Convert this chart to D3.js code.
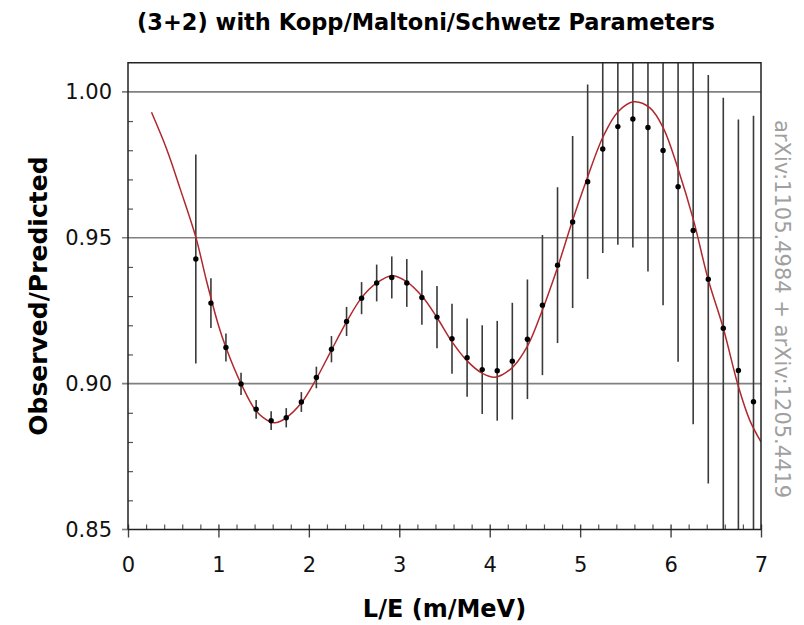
<!DOCTYPE html>
<html>
<head>
<meta charset="utf-8">
<script src="https://cdn.jsdelivr.net/npm/d3@7/dist/d3.min.js"></script>
<style>
  html, body { margin: 0; padding: 0; background: #fff; }
  svg { display: block; }
  text { font-family: "DejaVu Sans", Verdana, sans-serif; }
</style>
</head>
<body>
<svg id="chart" width="804" height="625"></svg>
<script>
// Binned L/E centres (m/MeV)
const binLE = [0.75, 0.917, 1.083, 1.25, 1.417, 1.583, 1.75, 1.917, 2.083, 2.25,
  2.417, 2.583, 2.75, 2.917, 3.083, 3.25, 3.417, 3.583, 3.75, 3.917,
  4.083, 4.25, 4.417, 4.583, 4.75, 4.917, 5.083, 5.25, 5.417, 5.583,
  5.75, 5.917, 6.083, 6.25, 6.417, 6.583, 6.75, 6.917];

// Observed / predicted ratio in each bin
const ratio = [0.9427, 0.9276, 0.9124, 0.8999, 0.8912, 0.8873, 0.8883, 0.8937, 0.9021, 0.9118,
  0.9213, 0.9293, 0.9345, 0.9364, 0.9345, 0.9295, 0.9228, 0.9154, 0.9089, 0.9048,
  0.9044, 0.9077, 0.9152, 0.9269, 0.9406, 0.9554, 0.9692, 0.9804, 0.9881, 0.9907,
  0.9878, 0.9799, 0.9675, 0.9525, 0.9358, 0.9190, 0.9045, 0.8938];

// Symmetric uncertainty on each ratio
const ratioErr = [0.0358, 0.0085, 0.0048, 0.0038, 0.0032, 0.0032, 0.0033, 0.0034, 0.0037, 0.0045,
  0.0050, 0.0055, 0.0063, 0.0072, 0.0082, 0.0093, 0.0107, 0.0120, 0.0134, 0.0152,
  0.0171, 0.0200, 0.0205, 0.0240, 0.0267, 0.0295, 0.0333, 0.0356, 0.0405, 0.0440,
  0.0494, 0.0530, 0.0600, 0.0664, 0.0700, 0.0790, 0.0860, 0.0980];

// (3+2) oscillation prediction sampled along L/E
const fitLE = [0.26, 0.43, 0.58, 0.75, 0.87, 1.0, 1.083, 1.25, 1.42, 1.58, 1.63, 1.75, 1.92,
  2.08, 2.25, 2.42, 2.58, 2.75, 2.92, 3.08, 3.25, 3.42, 3.58, 3.75, 3.92, 4.06, 4.25,
  4.42, 4.58, 4.75, 4.906, 5.072, 5.256, 5.422, 5.595, 5.772, 5.92, 6.086, 6.252,
  6.417, 6.583, 6.75, 6.875, 7.0];
const fitRatio = [0.9930, 0.9802, 0.9665, 0.9502, 0.9350, 0.9200, 0.9124, 0.9000, 0.8905, 0.8868, 0.8866, 0.8883, 0.8935,
  0.9015, 0.9115, 0.9213, 0.9293, 0.9345, 0.9370, 0.9350, 0.9300, 0.9225, 0.9145, 0.9078, 0.9035, 0.9022, 0.9055,
  0.9130, 0.9250, 0.9398, 0.9550, 0.9699, 0.9848, 0.9933, 0.9966, 0.9945, 0.9876, 0.9733, 0.9562,
  0.9356, 0.9190, 0.8990, 0.8875, 0.8800];

const xMajor = [0, 1, 2, 3, 4, 5, 6, 7];
const yMajor = [0.85, 0.90, 0.95, 1.00];
const yGrid = [0.90, 0.95, 1.00];

const titleText = "(3+2) with Kopp/Maltoni/Schwetz Parameters";
const xTitle = "L/E (m/MeV)";
const yTitle = "Observed/Predicted";
const refText = "arXiv:1105.4984 + arXiv:1205.4419";

const svg = d3.select("#chart");
const plot = { left: 128, right: 761, top: 62.7, bottom: 529.5 };

const x = d3.scaleLinear().domain([0, 7]).range([plot.left, plot.right]);
const y = d3.scaleLinear().domain([0.85, 1.01]).range([plot.bottom, plot.top]);

svg.append("defs").append("clipPath").attr("id", "plotClip")
  .append("rect")
  .attr("x", plot.left).attr("y", plot.top)
  .attr("width", plot.right - plot.left).attr("height", plot.bottom - plot.top);

// horizontal reference lines, extending a little past the left axis
svg.append("g").selectAll("line").data(yMajor).join("line")
  .attr("x1", plot.left - 6).attr("x2", d => yGrid.includes(d) ? plot.right : plot.left)
  .attr("y1", d => y(d)).attr("y2", d => y(d))
  .attr("stroke", "#808080").attr("stroke-width", 1.6);

// minor ticks on y (inward)
const yMinor = d3.range(85, 101).map(v => v / 100).filter(v => !yMajor.some(m => Math.abs(m - v) < 1e-9));
svg.append("g")
  .attr("transform", `translate(${plot.left},0)`)
  .call(d3.axisRight(y).tickValues(yMinor).tickSize(5).tickFormat(""))
  .call(g => g.select(".domain").remove())
  .call(g => g.selectAll("line").attr("stroke", "#555").attr("stroke-width", 1.2));

// y tick labels
svg.append("g")
  .attr("transform", `translate(${plot.left},0)`)
  .call(d3.axisLeft(y).tickValues(yMajor).tickSize(0).tickPadding(16).tickFormat(d3.format(".2f")))
  .call(g => g.select(".domain").remove())
  .call(g => g.selectAll("text").attr("font-size", 21).attr("fill", "#111")
    .attr("font-family", "'DejaVu Sans', Verdana, sans-serif"));

// x axis: minor ticks inward, major ticks across the axis
const xMinor = d3.range(0, 36).map(v => v / 5).filter(v => Math.abs(v - Math.round(v)) > 1e-9);
svg.append("g")
  .attr("transform", `translate(0,${plot.bottom})`)
  .call(d3.axisTop(x).tickValues(xMinor).tickSize(5).tickFormat(""))
  .call(g => g.select(".domain").remove())
  .call(g => g.selectAll("line").attr("stroke", "#555").attr("stroke-width", 1.2));
svg.append("g")
  .attr("transform", `translate(0,${plot.bottom})`)
  .call(d3.axisTop(x).tickValues(xMajor).tickSize(5).tickFormat(""))
  .call(g => g.select(".domain").remove())
  .call(g => g.selectAll("line").attr("stroke", "#444").attr("stroke-width", 1.4));
svg.append("g")
  .attr("transform", `translate(0,${plot.bottom})`)
  .call(d3.axisBottom(x).tickValues(xMajor).tickSize(8).tickPadding(20).tickFormat(d3.format("d")))
  .call(g => g.select(".domain").remove())
  .call(g => g.selectAll("line").attr("stroke", "#444").attr("stroke-width", 1.4))
  .call(g => g.selectAll("text").attr("font-size", 21).attr("fill", "#111")
    .attr("font-family", "'DejaVu Sans', Verdana, sans-serif"));

// error bars
const pts = binLE.map((d, i) => ({ le: d, r: ratio[i], e: ratioErr[i] }));
const dataG = svg.append("g").attr("clip-path", "url(#plotClip)");
dataG.selectAll("line.err").data(pts).join("line")
  .attr("class", "err")
  .attr("x1", d => x(d.le)).attr("x2", d => x(d.le))
  .attr("y1", d => y(d.r + d.e)).attr("y2", d => y(d.r - d.e))
  .attr("stroke", "#3a3a3a").attr("stroke-width", 1.6);

// prediction curve
const fit = fitLE.map((d, i) => [d, fitRatio[i]]);
dataG.append("path").datum(fit)
  .attr("d", d3.line().x(d => x(d[0])).y(d => y(d[1])).curve(d3.curveCatmullRom.alpha(0.5)))
  .attr("fill", "none").attr("stroke", "#b0282c").attr("stroke-width", 1.5);

// data points
dataG.selectAll("circle").data(pts).join("circle")
  .attr("cx", d => x(d.le)).attr("cy", d => y(d.r)).attr("r", 2.7)
  .attr("fill", "#000");

// frame
svg.append("path")
  .attr("d", `M${plot.left},${plot.bottom}V${plot.top}H${plot.right}V${plot.bottom}H${plot.left}`)
  .attr("fill", "none").attr("stroke", "#222").attr("stroke-width", 1.5);

// titles
svg.append("text").attr("x", 426).attr("y", 30).attr("text-anchor", "middle")
  .attr("font-size", 22.5).attr("font-weight", "bold").attr("fill", "#000").text(titleText);
svg.append("text").attr("x", (plot.left + plot.right) / 2).attr("y", 617).attr("text-anchor", "middle")
  .attr("font-size", 24).attr("font-weight", "bold").attr("fill", "#000").text(xTitle);
svg.append("text")
  .attr("transform", `translate(47,${(plot.top + plot.bottom) / 2}) rotate(-90)`)
  .attr("text-anchor", "middle")
  .attr("font-size", 25).attr("font-weight", "bold").attr("fill", "#000").text(yTitle);
svg.append("text")
  .attr("transform", `translate(775,120) rotate(90)`)
  .attr("text-anchor", "start")
  .attr("font-size", 21).attr("fill", "#a0a0a0").text(refText);
</script>
</body>
</html>
